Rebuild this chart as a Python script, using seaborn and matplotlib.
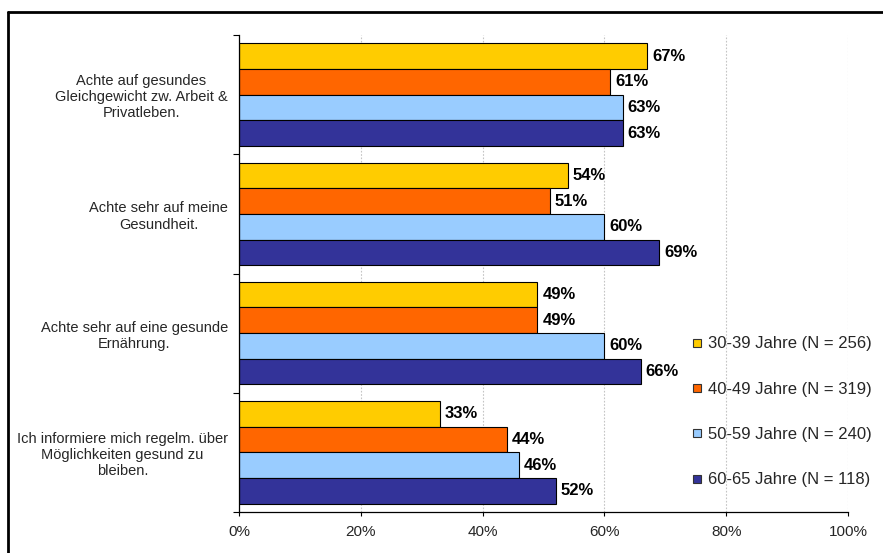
import pandas as pd
import numpy as np
import matplotlib.pyplot as plt
import seaborn as sns
from matplotlib.lines import Line2D
from matplotlib.ticker import FixedLocator

# chart data
statements = [
    "Achte auf gesundes\nGleichgewicht zw. Arbeit &\nPrivatleben.",
    "Achte sehr auf meine\nGesundheit.",
    "Achte sehr auf eine gesunde\nErnährung.",
    "Ich informiere mich regelm. über\nMöglichkeiten gesund zu\nbleiben.",
]
age_groups = [
    "30-39 Jahre (N = 256)",
    "40-49 Jahre (N = 319)",
    "50-59 Jahre (N = 240)",
    "60-65 Jahre (N = 118)",
]
pct_30_39 = [67, 54, 49, 33]
pct_40_49 = [61, 51, 49, 44]
pct_50_59 = [63, 60, 60, 46]
pct_60_65 = [63, 69, 66, 52]
colors = ["#FFCC00", "#FF6600", "#99CCFF", "#333399"]

rows = []
for grp, vals in zip(age_groups, [pct_30_39, pct_40_49, pct_50_59, pct_60_65]):
    for s, v in zip(statements, vals):
        rows.append({"Aussage": s, "Gruppe": grp, "Prozent": v})
df = pd.DataFrame(rows)

sns.set_theme(style="white")
plt.rcParams["font.family"] = ["Liberation Sans", "DejaVu Sans"]

fig = plt.figure(figsize=(8.83, 5.53), dpi=100)
ax = fig.add_axes([239 / 883, 1 - 512 / 553, 609 / 883, 477 / 553])

sns.barplot(data=df, y="Aussage", x="Prozent", hue="Gruppe", order=statements,
            hue_order=age_groups, palette=colors, width=0.86, orient="h",
            edgecolor="black", linewidth=0.8, saturation=1, legend=False, ax=ax)

for cont in ax.containers:
    ax.bar_label(cont, labels=[f"{v:.0f}%" for v in cont.datavalues], padding=3.5,
                 fontsize=12, fontweight="bold", color="black")

ax.set_xlim(0, 100)
ax.set_ylim(3.5, -0.5)
ax.set_xticks(np.arange(0, 101, 20))
ax.set_xticklabels([f"{t}%" for t in range(0, 101, 20)], fontsize=11)
ax.set_yticks(range(len(statements)))
ax.set_yticklabels(statements, fontsize=10.5, multialignment="center")
ax.yaxis.set_minor_locator(FixedLocator([-0.5, 0.5, 1.5, 2.5, 3.5]))
ax.tick_params(axis="y", which="major", length=0, pad=8)
ax.tick_params(axis="y", which="minor", left=True, length=4, width=0.8, color="black", direction="out")
ax.tick_params(axis="x", bottom=True, length=3, width=0.8, color="black", direction="out", pad=6)
ax.set_xlabel("")
ax.set_ylabel("")

ax.grid(axis="x", color="#c4c4c4", linestyle=(0, (1.5, 1.5)), linewidth=0.8)
ax.set_axisbelow(True)
for side in ["top", "right"]:
    ax.spines[side].set_visible(False)
for side in ["left", "bottom"]:
    ax.spines[side].set_color("black")
    ax.spines[side].set_linewidth(0.9)

handles = [Line2D([], [], marker="s", linestyle="none", markersize=5.5,
                  markerfacecolor=c, markeredgecolor="#333333", markeredgewidth=0.8)
           for c in colors]
fig.legend(handles, age_groups, loc="upper left", bbox_to_anchor=(683 / 883, 1 - 328 / 553),
           frameon=False, fontsize=12, borderpad=0, handlelength=0.7, handletextpad=0.3,
           labelspacing=1.82)

# outer frame (only top and left edge fall inside the picture)
fig.add_artist(Line2D([8 / 883, 1.0], [1 - 12 / 553, 1 - 12 / 553], color="black", linewidth=2))
fig.add_artist(Line2D([8 / 883, 8 / 883], [0.0, 1 - 12 / 553], color="black", linewidth=2))

fig.savefig("out.png", dpi=100)
